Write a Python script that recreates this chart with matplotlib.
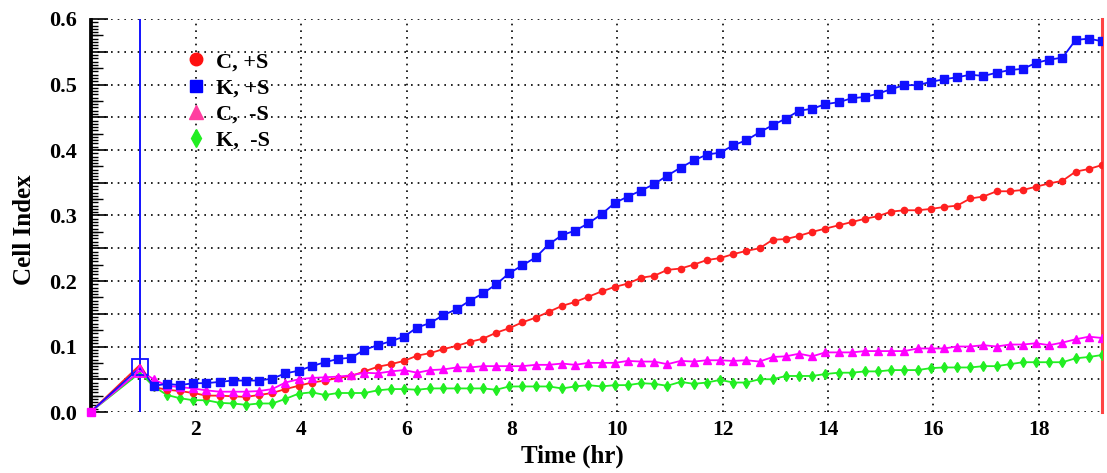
import numpy as np
import matplotlib
matplotlib.use('Agg')
import matplotlib.pyplot as plt
from matplotlib.lines import Line2D
from matplotlib.ticker import FuncFormatter

plt.rcParams['font.family'] = 'Liberation Serif'
plt.rcParams['font.weight'] = 'bold'

# time points (hr): start, compound addition, then every ~15 min
time_hr = [0.0, 0.94,
           1.2, 1.45, 1.7, 1.95, 2.2, 2.45, 2.7, 2.95, 3.2, 3.45,
           3.7, 3.95, 4.2, 4.45, 4.7, 4.95, 5.2, 5.45, 5.7, 5.95,
           6.2, 6.45, 6.7, 6.95, 7.2, 7.45, 7.7, 7.95, 8.2, 8.45,
           8.7, 8.95, 9.2, 9.45, 9.7, 9.95, 10.2, 10.45, 10.7, 10.95,
           11.2, 11.45, 11.7, 11.95, 12.2, 12.45, 12.7, 12.95, 13.2, 13.45,
           13.7, 13.95, 14.2, 14.45, 14.7, 14.95, 15.2, 15.45, 15.7, 15.95,
           16.2, 16.45, 16.7, 16.95, 17.2, 17.45, 17.7, 17.95, 18.2, 18.45,
           18.7, 18.95, 19.2]

c_plus_s = [0.0, 0.072,
            0.038, 0.034, 0.032, 0.029, 0.025, 0.025, 0.024, 0.023, 0.026, 0.029,
            0.035, 0.040, 0.045, 0.048, 0.052, 0.055, 0.062, 0.069, 0.073, 0.078,
            0.086, 0.090, 0.096, 0.101, 0.107, 0.112, 0.121, 0.128, 0.137, 0.144,
            0.153, 0.162, 0.168, 0.176, 0.184, 0.191, 0.196, 0.205, 0.208, 0.217,
            0.219, 0.225, 0.232, 0.235, 0.241, 0.246, 0.250, 0.263, 0.264, 0.269,
            0.275, 0.280, 0.285, 0.290, 0.295, 0.299, 0.306, 0.308, 0.308, 0.310,
            0.313, 0.315, 0.326, 0.329, 0.337, 0.337, 0.339, 0.344, 0.349, 0.353,
            0.367, 0.371, 0.377]

k_plus_s = [0.0, 0.068,
            0.040, 0.043, 0.041, 0.044, 0.044, 0.046, 0.048, 0.048, 0.048, 0.051,
            0.059, 0.063, 0.070, 0.076, 0.081, 0.083, 0.095, 0.102, 0.108, 0.115,
            0.129, 0.136, 0.148, 0.157, 0.170, 0.181, 0.195, 0.212, 0.224, 0.236,
            0.256, 0.270, 0.277, 0.288, 0.302, 0.319, 0.329, 0.338, 0.348, 0.361,
            0.373, 0.384, 0.393, 0.396, 0.407, 0.415, 0.427, 0.438, 0.448, 0.460,
            0.463, 0.470, 0.473, 0.479, 0.481, 0.486, 0.493, 0.499, 0.499, 0.504,
            0.508, 0.511, 0.515, 0.513, 0.518, 0.522, 0.524, 0.533, 0.538, 0.541,
            0.568, 0.570, 0.566]

c_minus_s = [0.0, 0.063,
             0.050, 0.040, 0.038, 0.036, 0.033, 0.031, 0.031, 0.031, 0.032, 0.035,
             0.045, 0.050, 0.052, 0.053, 0.054, 0.056, 0.060, 0.059, 0.062, 0.064,
             0.060, 0.064, 0.065, 0.068, 0.068, 0.070, 0.070, 0.070, 0.070, 0.072,
             0.072, 0.074, 0.072, 0.075, 0.075, 0.075, 0.078, 0.077, 0.077, 0.073,
             0.078, 0.077, 0.079, 0.079, 0.078, 0.079, 0.077, 0.084, 0.085, 0.089,
             0.085, 0.091, 0.091, 0.091, 0.093, 0.093, 0.093, 0.093, 0.097, 0.097,
             0.097, 0.100, 0.100, 0.102, 0.100, 0.103, 0.103, 0.105, 0.102, 0.106,
             0.111, 0.115, 0.113]

k_minus_s = [0.0, 0.060,
             0.039, 0.026, 0.021, 0.018, 0.018, 0.014, 0.013, 0.011, 0.013, 0.013,
             0.020, 0.028, 0.030, 0.026, 0.029, 0.029, 0.029, 0.033, 0.035, 0.035,
             0.034, 0.036, 0.036, 0.036, 0.036, 0.036, 0.034, 0.039, 0.039, 0.039,
             0.039, 0.036, 0.039, 0.041, 0.039, 0.041, 0.041, 0.044, 0.043, 0.040,
             0.046, 0.043, 0.045, 0.049, 0.045, 0.045, 0.050, 0.050, 0.055, 0.055,
             0.055, 0.058, 0.060, 0.060, 0.062, 0.062, 0.064, 0.064, 0.064, 0.067,
             0.068, 0.068, 0.068, 0.070, 0.070, 0.073, 0.076, 0.076, 0.076, 0.076,
             0.082, 0.084, 0.087]

labels = ['C, +S', 'K, +S', 'C,  -S', 'K,  -S']

fig = plt.figure(figsize=(11.07, 4.73), dpi=100)
ax = fig.add_axes([90.5 / 1107, 1 - 412 / 473, 1011.5 / 1107, 393 / 473])

# grid first so lines sit on top
ax.set_axisbelow(True)
ax.grid(True, color='black', linestyle=(0, (1, 3)), linewidth=1.2)

ax.axvline(time_hr[1], color='#0000ff', linewidth=1.3, zorder=2)
ax.axvline(time_hr[-1], color='#ff4444', linewidth=2.2, zorder=2, clip_on=False)

ax.plot(time_hr, k_minus_s, color='#22ee22', linewidth=1.3, marker='d',
        markersize=5.5, markevery=range(2, len(time_hr)), zorder=3)
ax.plot(time_hr, c_plus_s, color='#ff2020', linewidth=1.3, marker='o',
        markersize=4.5, markevery=range(2, len(time_hr)), zorder=4)
ax.plot(time_hr, c_minus_s, color='#ff00ff', linewidth=1.3, marker='^',
        markersize=6, markevery=range(2, len(time_hr)), zorder=5)
ax.plot(time_hr, k_plus_s, color='#1010ff', linewidth=1.3, marker='s',
        markersize=6, markevery=range(2, len(time_hr)), zorder=6)

# open markers at the addition point and the start marker
ax.plot(time_hr[1], k_plus_s[1], marker='s', markersize=11, markerfacecolor='none',
        markeredgecolor='#1010ff', markeredgewidth=1.3, zorder=7)
ax.plot(time_hr[1], c_minus_s[1], marker='^', markersize=9, markerfacecolor='none',
        markeredgecolor='#ff00ff', markeredgewidth=1.3, zorder=7)
ax.plot(time_hr[0], c_minus_s[0], marker='s', markersize=6, color='#ff00ff',
        zorder=7, clip_on=False)

ax.set_xlim(0, 19.2)
ax.set_ylim(0, 0.6)

ax.set_xticks(np.arange(2, 19, 2))
ax.tick_params(axis='x', length=0, pad=6, labelsize=15.5)

ax.set_yticks(np.linspace(0, 0.6, 13))
ax.set_yticks(np.linspace(0, 0.6, 121), minor=True)
ax.yaxis.set_major_formatter(FuncFormatter(
    lambda v, p: '%.1f' % v if round(v * 20) % 2 == 0 else ''))
ax.tick_params(axis='y', which='major', direction='in', length=12, width=1.2,
               pad=10, labelsize=16)
ax.tick_params(axis='y', which='minor', direction='in', length=5, width=1)

# medium ticks at the quarter steps
sec = ax.secondary_yaxis('left')
sec.set_yticks(np.arange(0.025, 0.6, 0.05))
sec.tick_params(direction='in', length=9, width=1, labelleft=False)

for side in ['top', 'right', 'bottom']:
    ax.spines[side].set_visible(False)
ax.spines['left'].set_linewidth(2)
sec.spines['left'].set_linewidth(2)

ax.set_xlabel('Time (hr)', fontsize=18, fontweight='bold')
ax.xaxis.set_label_coords((572 - 90.5) / 1011.5, -0.082)
ax.set_ylabel('Cell Index', fontsize=18, fontweight='bold')
ax.yaxis.set_label_coords(-0.054, (412 - 230) / 393)

handles = [
    Line2D([], [], linestyle='none', marker='o', color='#ff1010', markersize=9),
    Line2D([], [], linestyle='none', marker='s', color='#0000ff', markersize=9),
    Line2D([], [], linestyle='none', marker='^', color='#ff3fa0', markersize=10),
    Line2D([], [], linestyle='none', marker='d', color='#22ee22', markersize=9),
]
ax.legend(handles, labels, loc='upper left', bbox_to_anchor=(0.0934, 0.917),
          frameon=False, fontsize=16, handlelength=1.0, handletextpad=0.4,
          labelspacing=0.25, borderpad=0, borderaxespad=0)

fig.savefig('out.png', dpi=100)
